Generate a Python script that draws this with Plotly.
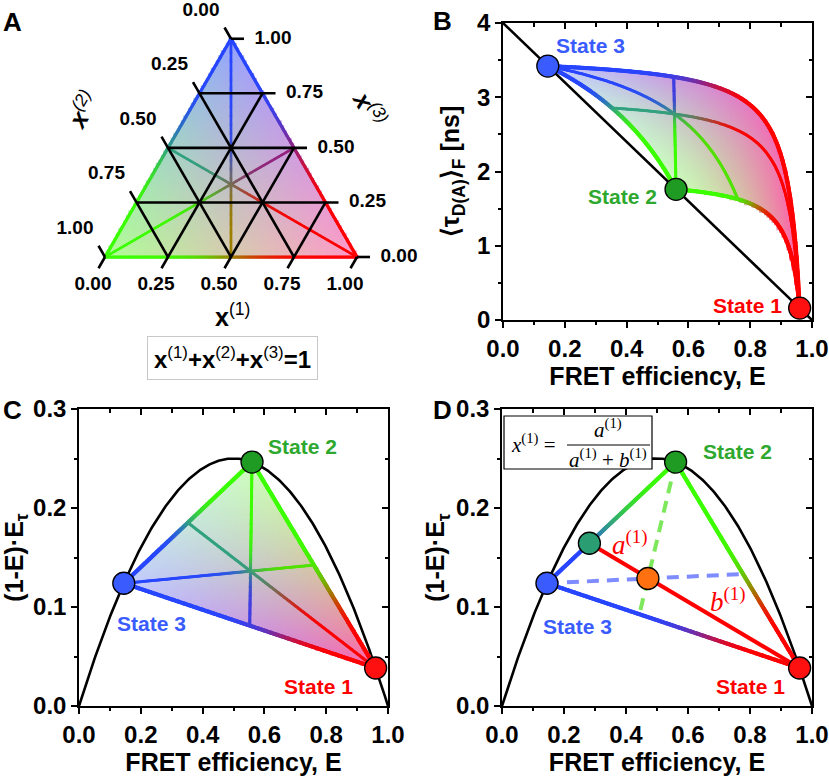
import numpy as np
import plotly.graph_objects as go

# ---- values ----
STATE_E = [0.96, 0.56, 0.145]          # FRET efficiency of state 1, 2, 3
TAU_D0 = 4.0                            # donor-only lifetime [ns]
STATE_NAMES = ["State 1", "State 2", "State 3"]
TERN_TICKS = [0.0, 0.25, 0.5, 0.75, 1.0]
TERN_LABELS = ["0.00", "0.25", "0.50", "0.75", "1.00"]
D_EDGE_POINT = [0.0, 0.33, 0.67]        # species fractions of teal point (edge 3-2)
D_INNER_POINT = [0.28, 0.235, 0.485]    # species fractions of orange point

# ---- style ----
W, H = 829, 778
FONT = "Liberation Sans, Arial, sans-serif"
SERIF = "Liberation Serif, Times New Roman, serif"
LINE_RGB = np.array([[255, 0, 0], [60, 255, 0], [40, 70, 255]], float)
FILL_RGB = np.array([[255, 30, 130], [80, 255, 20], [50, 80, 255]], float)
MARKER_COLORS = ["#ff1010", "#1f9a22", "#3a5cff"]
LABEL_COLORS = ["#ff0000", "#2ea82e", "#3a5cff"]
SQ = np.sqrt(3) / 2

E_i = np.array(STATE_E)
tau_i = TAU_D0 * (1 - E_i)
y_i = (1 - E_i) * E_i
VERT = np.eye(3)

# pixel boxes of the four panels
PX = {
    "A": (30, 410, 0, 330),
    "B": (503, 812, 23, 320),
    "C": (79, 388, 409, 706),
    "D": (502, 812, 409, 706),
}


def dom(key):
    x0, x1, y0, y1 = PX[key]
    return [x0 / W, x1 / W], [1 - y1 / H, 1 - y0 / H]


A_SC, A_ORIG = 252.0, (105, 257)
A_XR = [(PX["A"][0] - A_ORIG[0]) / A_SC, (PX["A"][1] - A_ORIG[0]) / A_SC]
A_YR = [(A_ORIG[1] - PX["A"][3]) / A_SC, (A_ORIG[1] - PX["A"][2]) / A_SC]

SC = {"A": (A_SC, A_SC), "B": (309, 297 / 4), "C": (309, 990), "D": (310, 990)}
AX = {"A": ("x", "y"), "B": ("x2", "y2"), "C": ("x3", "y3"), "D": ("x4", "y4")}


# ---- mappings from species fractions to panel coordinates ----
def to_a(fr):
    return fr[:, 0] + 0.5 * fr[:, 2], fr[:, 2] * SQ


def to_b(fr):
    return fr @ E_i, (fr @ tau_i ** 2) / (fr @ tau_i)


def to_c(fr):
    return fr @ E_i, fr @ y_i


def inv_a(X, Y):
    x3 = Y / SQ
    x1 = X - 0.5 * x3
    return np.stack([x1, 1 - x1 - x3, x3], axis=1)


def inv_b(E, T):
    n = len(E)
    M = np.empty((n, 3, 3))
    M[:, 0, :] = 1
    M[:, 1, :] = E_i
    M[:, 2, :] = tau_i * (T[:, None] - tau_i)
    rhs = np.stack([np.ones(n), E, np.zeros(n)], axis=1)
    return np.linalg.solve(M, rhs[..., None])[..., 0]


def inv_c(E, Y):
    M = np.vstack([np.ones(3), E_i, y_i])
    rhs = np.vstack([np.ones(len(E)), E, Y])
    return np.linalg.solve(M, rhs).T


def rgb(c):
    return [f"rgb({r:.0f},{g:.0f},{b:.0f})" for r, g, b in c]


def line_colors(fr, w, p):
    fw = (np.clip(fr, 0, 1) * np.asarray(w)) ** p
    return rgb(fw @ LINE_RGB / fw.sum(axis=1, keepdims=True))


def fill_colors(fr, alpha):
    a = (fr @ np.asarray(alpha))[:, None]
    return rgb(255 * (1 - a) + a * (fr @ FILL_RGB))


def fill_trace(key, inv, xr, yr, alpha, step=2.5):
    sx, sy = SC[key]
    X = np.arange(xr[0], xr[1], step / sx)
    Y = np.arange(yr[0], yr[1], step / sy)
    XX, YY = np.meshgrid(X, Y)
    XX, YY = XX.ravel(), YY.ravel()
    fr = inv(XX, YY)
    ok = fr.min(axis=1) >= -0.004
    fr = np.clip(fr[ok], 0, 1)
    fr = fr / fr.sum(axis=1, keepdims=True)
    return go.Scatter(x=XX[ok], y=YY[ok], mode="markers", xaxis=AX[key][0], yaxis=AX[key][1],
                      marker=dict(symbol="square", size=step + 0.9, color=fill_colors(fr, alpha),
                                  line=dict(width=0)),
                      hoverinfo="skip", showlegend=False)


def grad_trace(key, fn, fa, fb, width, w, p):
    sx, sy = SC[key]
    t = np.linspace(0, 1, 4000)[:, None]
    fr = (1 - t) * np.asarray(fa) + t * np.asarray(fb)
    X, Y = fn(fr)
    s = np.concatenate([[0], np.cumsum(np.hypot(np.diff(X) * sx, np.diff(Y) * sy))])
    keep = np.unique(np.append(np.searchsorted(s, np.arange(0, s[-1], 0.9)), len(s) - 1))
    return go.Scatter(x=X[keep], y=Y[keep], mode="markers", xaxis=AX[key][0], yaxis=AX[key][1],
                      marker=dict(size=width, color=line_colors(fr[keep], w, p), line=dict(width=0)),
                      hoverinfo="skip", showlegend=False, cliponaxis=False)


def triangle_lines(key, fn, edge_w, inner_w, w, p):
    out = []
    mids = [(VERT[(k + 1) % 3] + VERT[(k + 2) % 3]) / 2 for k in range(3)]
    for k in range(3):
        out.append(grad_trace(key, fn, VERT[k], mids[k], inner_w, w, p))
    for i, j in [(0, 1), (1, 2), (2, 0)]:
        out.append(grad_trace(key, fn, VERT[i], VERT[j], edge_w, w, p))
    return out


def state_markers(key, fn, fracs, colors):
    X, Y = fn(np.asarray(fracs, float))
    return go.Scatter(x=X, y=Y, mode="markers", xaxis=AX[key][0], yaxis=AX[key][1],
                      marker=dict(size=22, color=colors, line=dict(color="black", width=1.3)),
                      cliponaxis=False, hoverinfo="skip", showlegend=False)


def note(x, y, text, font, xref="paper", yref="paper", **kw):
    return dict(x=x, y=y, xref=xref, yref=yref, text=text, font=font, showarrow=False,
                xanchor="center", yanchor="middle", **kw)


traces = []
annotations = []
shapes = []

# ================= Panel A: ternary =================
traces.append(fill_trace("A", inv_a, [-0.01, 1.01], [-0.01, SQ + 0.01], (0.45, 0.45, 0.52)))
traces += triangle_lines("A", to_a, 3.2, 2.6, (1, 1, 1), 3)

L = 13 / A_SC
gx, gy = [], []
d1 = np.array([0.5, SQ])      # constant x1 direction
d2 = np.array([-0.5, SQ])     # constant x2 direction
for c in TERN_TICKS:
    inner = 0 < c < 1
    # x1 = c (bottom axis, ticks below)
    pb = np.array(to_a(np.array([[c, 1 - c, 0]]))).ravel()
    pr = np.array(to_a(np.array([[c, 0, 1 - c]]))).ravel()
    st = pb - L * d1
    en = pr if inner else pb
    gx += [st[0], en[0], None]
    gy += [st[1], en[1], None]
    # x3 = c (right axis, ticks right)
    pl = np.array(to_a(np.array([[0, 1 - c, c]]))).ravel()
    pr = np.array(to_a(np.array([[1 - c, 0, c]]))).ravel()
    st = pl if inner else pr
    en = pr + L * np.array([1, 0])
    gx += [st[0], en[0], None]
    gy += [st[1], en[1], None]
    # x2 = c (left axis, ticks upper-left)
    pb = np.array(to_a(np.array([[1 - c, c, 0]]))).ravel()
    pl = np.array(to_a(np.array([[0, c, 1 - c]]))).ravel()
    st = pb if inner else pl
    en = pl + L * d2
    gx += [st[0], en[0], None]
    gy += [st[1], en[1], None]
traces.append(go.Scatter(x=gx, y=gy, mode="lines", line=dict(color="black", width=2.6),
                         xaxis="x", yaxis="y", hoverinfo="skip", showlegend=False))

tick_fr = np.array(TERN_TICKS)
zeros = np.zeros_like(tick_fr)
bx, by = to_a(np.stack([tick_fr, 1 - tick_fr, zeros], axis=1))
rx, ry = to_a(np.stack([1 - tick_fr, zeros, tick_fr], axis=1))
lx, ly = to_a(np.stack([zeros, tick_fr, 1 - tick_fr], axis=1))
tfont = dict(family=FONT, size=19, color="black", weight="bold")
traces.append(go.Scatter(
    x=np.concatenate([bx - 12 / A_SC, rx + 42 / A_SC, lx - 30 / A_SC]),
    y=np.concatenate([by - 28 / A_SC, ry, ly + 28 / A_SC]),
    text=TERN_LABELS * 3, mode="text", textfont=tfont, textposition="middle center",
    xaxis="x", yaxis="y", hoverinfo="skip", showlegend=False, cliponaxis=False))

annotations += [
    note(0.504, -0.232, "<b>x</b><sup>(1)</sup>", dict(family=FONT, size=25, color="black"),
         xref="x", yref="y"),
    note(-0.092, 0.585, "<b><i>x</i></b><sup><i>(2)</i></sup>",
         dict(family=FONT, size=25, color="black"), xref="x", yref="y", textangle=-60),
    note(1.05, 0.59, "<b><i>x</i></b><sup><i>(3)</i></sup>",
         dict(family=FONT, size=25, color="black"), xref="x", yref="y", textangle=60),
    note(232 / W, 1 - 358 / H,
         "<b>x</b><sup>(1)</sup><b>+x</b><sup>(2)</sup><b>+x</b><sup>(3)</sup><b>=1</b>",
         dict(family=FONT, size=24, color="black"),
         bordercolor="#c8c8c8", borderwidth=1, borderpad=6, bgcolor="white"),
]

# ================= Panel B: lifetime vs E =================
ALPHA_BC = (0.7, 0.28, 0.3)
W_BC, P_BC = (0.6, 1, 1), 4
traces.append(fill_trace("B", inv_b, [0.13, 0.975], [0.12, 3.46], ALPHA_BC))
Eline = np.array([0.0, 1.0])
traces.append(go.Scatter(x=Eline, y=TAU_D0 * (1 - Eline), mode="lines",
                         line=dict(color="black", width=2.6), xaxis="x2", yaxis="y2",
                         hoverinfo="skip", showlegend=False))
traces += triangle_lines("B", to_b, 4.2, 3.0, W_BC, P_BC)
traces.append(state_markers("B", to_b, VERT, MARKER_COLORS))

# ================= Panel C =================
Ep = np.linspace(0, 1, 300)
traces.append(go.Scatter(x=Ep, y=Ep * (1 - Ep), mode="lines", line=dict(color="black", width=2.6),
                         xaxis="x3", yaxis="y3", hoverinfo="skip", showlegend=False))
traces.append(fill_trace("C", inv_c, [0.13, 0.975], [0.03, 0.25], ALPHA_BC))
traces += triangle_lines("C", to_c, 4.2, 3.0, W_BC, P_BC)
traces.append(state_markers("C", to_c, VERT, MARKER_COLORS))

# ================= Panel D =================
traces.append(go.Scatter(x=Ep, y=Ep * (1 - Ep), mode="lines", line=dict(color="black", width=2.6),
                         xaxis="x4", yaxis="y4", hoverinfo="skip", showlegend=False))
teal = np.array(D_EDGE_POINT)
orng = np.array(D_INNER_POINT)
traces.append(grad_trace("D", to_c, VERT[2], teal, 4.2, (1, 0.3, 1), P_BC))
traces.append(grad_trace("D", to_c, teal, VERT[1], 4.2, W_BC, 2))
traces.append(grad_trace("D", to_c, VERT[1], VERT[0], 4.2, W_BC, P_BC))
traces.append(grad_trace("D", to_c, VERT[2], VERT[0], 4.2, W_BC, P_BC))
# dashed construction lines through the inner point
end13 = np.array([orng[0], 0, orng[2]]) / (orng[0] + orng[2])
end12 = np.array([orng[0], orng[1], 0]) / (orng[0] + orng[1])
gxd, gyd = to_c(np.stack([VERT[1], end13]))
traces.append(go.Scatter(x=gxd, y=gyd, mode="lines", xaxis="x4", yaxis="y4",
                         line=dict(color="#7de85c", width=4, dash="12px,8px"),
                         hoverinfo="skip", showlegend=False))
bxd, byd = to_c(np.stack([VERT[2], end12]))
traces.append(go.Scatter(x=bxd, y=byd, mode="lines", xaxis="x4", yaxis="y4",
                         line=dict(color="#7f8cff", width=4, dash="12px,8px"),
                         hoverinfo="skip", showlegend=False))
rxd, ryd = to_c(np.stack([teal, VERT[0]]))
traces.append(go.Scatter(x=rxd, y=ryd, mode="lines", xaxis="x4", yaxis="y4",
                         line=dict(color="#ff0000", width=4),
                         hoverinfo="skip", showlegend=False))
traces.append(state_markers("D", to_c, np.vstack([VERT, teal, orng]),
                            MARKER_COLORS + ["#2a9d72", "#ff7010"]))

# state labels (positions in data units of each panel)
lab_pos = {
    "B": [(0.79, 0.2), (0.388, 1.66), (0.282, 3.70)],
    "C": [(0.774, 0.0192), (0.722, 0.2626), (0.233, 0.0838)],
    "D": [(0.803, 0.0192), (0.761, 0.2566), (0.245, 0.0808)],
}
for key, pos in lab_pos.items():
    for k, (px_, py_) in enumerate(pos):
        annotations.append(note(px_, py_, STATE_NAMES[k],
                                dict(family=FONT, size=21, color=LABEL_COLORS[k], weight="bold"),
                                xref=AX[key][0], yref=AX[key][1]))

sfont = dict(family=SERIF, size=21, color="black")
annotations += [
    note(0.413, 0.1646, "<i>a</i><sup>(1)</sup>", dict(family=SERIF, size=27, color="#ff0000"),
         xref="x4", yref="y4"),
    note(0.729, 0.107, "<i>b</i><sup>(1)</sup>", dict(family=SERIF, size=27, color="#ff0000"),
         xref="x4", yref="y4"),
    note(533 / W, 1 - 443 / H, "<i>x</i><sup>(1)</sup> =", sfont),
    note(608 / W, 1 - 428 / H, "<i>a</i><sup>(1)</sup>", sfont),
    note(608 / W, 1 - 458 / H, "<i>a</i><sup>(1)</sup> + <i>b</i><sup>(1)</sup>", sfont),
]
shapes += [
    dict(type="rect", xref="paper", yref="paper", x0=504 / W, x1=652 / W, y0=1 - 469 / H,
         y1=1 - 416 / H, line=dict(color="black", width=1.2), fillcolor="white", layer="above"),
    dict(type="line", xref="paper", yref="paper", x0=567 / W, x1=650 / W, y0=1 - 445 / H,
         y1=1 - 445 / H, line=dict(color="black", width=1.2), layer="above"),
]

# panel letters
for letter, (px_, py_) in {"A": (12, 22), "B": (443, 21), "C": (12, 410), "D": (443, 410)}.items():
    annotations.append(note(px_ / W, 1 - py_ / H, letter,
                            dict(family=FONT, size=26, color="black", weight="bold")))

fig = go.Figure(traces)

# dummy traces for mirrored inside ticks
for base_x, base_y, top, right in [("x2", "y2", "x5", "y5"), ("x3", "y3", "x6", "y6"),
                                   ("x4", "y4", "x7", "y7")]:
    fig.add_trace(go.Scatter(x=[0.5], y=[0.1], xaxis=top, yaxis=base_y, mode="markers",
                             marker=dict(opacity=0), hoverinfo="skip", showlegend=False))
    fig.add_trace(go.Scatter(x=[0.5], y=[0.1], xaxis=base_x, yaxis=right, mode="markers",
                             marker=dict(opacity=0), hoverinfo="skip", showlegend=False))

tickfont = dict(family=FONT, size=24, color="black", weight="bold")
titlefont = dict(family=FONT, size=25, color="black", weight="bold")


def main_axis(domain, rng, dtick, mdtick, fmt, anchor, title, standoff):
    return dict(domain=domain, range=rng, dtick=dtick, tick0=0, tickformat=fmt, anchor=anchor,
                ticks="outside", ticklen=6, tickwidth=1.5, tickcolor="black",
                minor=dict(ticks="outside", ticklen=3.5, tickwidth=1.5, tickcolor="black",
                           dtick=mdtick, tick0=0),
                showline=True, linecolor="black", linewidth=1.5, mirror=True,
                showgrid=False, zeroline=False, tickfont=tickfont, automargin=False,
                title=dict(text=title, font=titlefont, standoff=standoff))


def mirror_axis(over, anchor, side, rng, dtick, mdtick):
    return dict(overlaying=over, anchor=anchor, side=side, range=rng, dtick=dtick, tick0=0,
                ticks="inside", ticklen=6, tickwidth=1.5, tickcolor="black", showticklabels=False,
                minor=dict(ticks="inside", ticklen=3.5, tickwidth=1.5, tickcolor="black",
                           dtick=mdtick, tick0=0),
                showline=False, showgrid=False, zeroline=False, automargin=False)


xdA, ydA = dom("A")
xdB, ydB = dom("B")
xdC, ydC = dom("C")
xdD, ydD = dom("D")
YT = "(1-E)·E<sub>τ</sub>"
XT = "FRET efficiency, E"

fig.update_layout(
    width=W, height=H, margin=dict(l=0, r=0, t=0, b=0),
    paper_bgcolor="white", plot_bgcolor="white", showlegend=False,
    font=dict(family=FONT, color="black"),
    xaxis=dict(domain=xdA, range=A_XR, visible=False, anchor="y", automargin=False),
    yaxis=dict(domain=ydA, range=A_YR, visible=False, anchor="x", automargin=False),
    xaxis2=main_axis(xdB, [0, 1], 0.2, 0.1, ".1f", "y2", XT, 6),
    yaxis2=main_axis(ydB, [0, 4], 1, 0.5, "d", "x2",
                     "⟨τ<sub>D(A)</sub>⟩<sub>F</sub> [ns]", 10),
    xaxis3=main_axis(xdC, [0, 1], 0.2, 0.1, ".1f", "y3", XT, 6),
    yaxis3=main_axis(ydC, [0, 0.3], 0.1, 0.05, ".1f", "x3", YT, 4),
    xaxis4=main_axis(xdD, [0, 1], 0.2, 0.1, ".1f", "y4", XT, 6),
    yaxis4=main_axis(ydD, [0, 0.3], 0.1, 0.05, ".1f", "x4", YT, 4),
    xaxis5=mirror_axis("x2", "y2", "top", [0, 1], 0.2, 0.1),
    yaxis5=mirror_axis("y2", "x2", "right", [0, 4], 1, 0.5),
    xaxis6=mirror_axis("x3", "y3", "top", [0, 1], 0.2, 0.1),
    yaxis6=mirror_axis("y3", "x3", "right", [0, 0.3], 0.1, 0.05),
    xaxis7=mirror_axis("x4", "y4", "top", [0, 1], 0.2, 0.1),
    yaxis7=mirror_axis("y4", "x4", "right", [0, 0.3], 0.1, 0.05),
    annotations=annotations, shapes=shapes,
)

# the page body has a default 8px margin; remove it so the figure fills the window
fig.write_html("out.html", config={"displayModeBar": False},
               post_script="document.body.style.margin='0px';")
